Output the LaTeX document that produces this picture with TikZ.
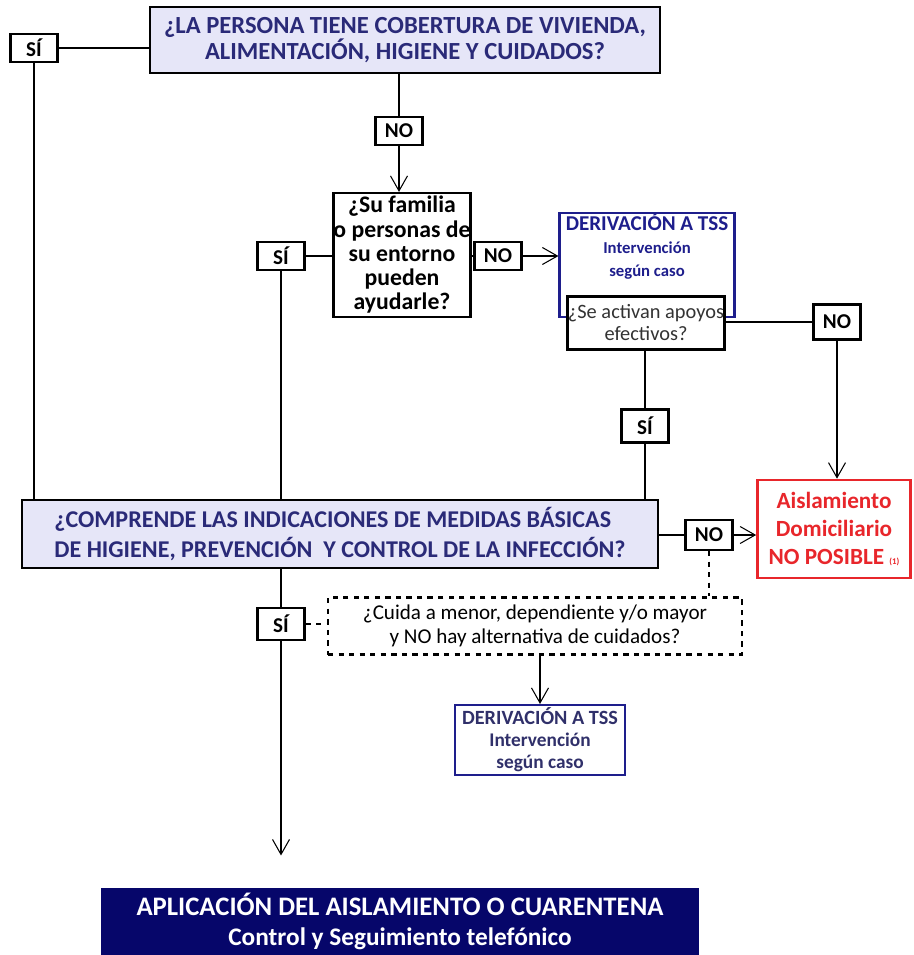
\documentclass[tikz,border=0pt]{standalone}
\usepackage{fontspec}
\setmainfont{Carlito}
\usepackage{xcolor}
\usetikzlibrary{calc,arrows.meta,positioning}
\definecolor{lav}{HTML}{E6E6F8}
\definecolor{qtext}{HTML}{2A2A78}
\definecolor{tssblue}{HTML}{1E1E8C}
\definecolor{tssgray}{HTML}{30306A}
\definecolor{navybox}{HTML}{06066A}
\definecolor{redbox}{HTML}{E8262B}

\begin{document}
\begin{tikzpicture}[x=0.2mm, y=-0.2mm, line width=1pt,
    >={Straight Barb[length=3mm, width=3.4mm, line width=0.6pt]},
    arr/.style={->},
    qbox/.style={draw, line width=1.2pt, fill=lav, text=qtext, align=center, inner sep=0pt},
    ans/.style={draw, line width=1.2pt, fill=white, font=\large\bfseries, inner sep=0pt, minimum width=9.4mm, minimum height=5.6mm},
    tssbox/.style={draw=tssblue, line width=1.2pt, text=tssblue, align=center, inner sep=0pt},
    sbox/.style={draw, line width=1.2pt, fill=white, align=center, inner sep=0pt}]
    \useasboundingbox (0,0) rectangle (913,955);

    \node[qbox, minimum width=102mm, minimum height=13.2mm, font=\fontsize{14}{14.5}\selectfont\bfseries] (persona) at (405,40) {¿LA PERSONA TIENE COBERTURA DE VIVIENDA,\\ALIMENTACIÓN, HIGIENE Y CUIDADOS?};
    \node[ans] (si1) at (34,48) {SÍ};
    \node[ans] (no1) at (399,131) {NO};

    \node[sbox, minimum width=27mm, minimum height=24.8mm, font=\fontsize{13.5}{13.8}\selectfont\bfseries] (familia) at (402,255) {¿Su familia\\o personas de\\su entorno\\pueden\\ayudarle?};
    \node[ans] (si2) at (281,256) {SÍ};
    \node[ans] (no2) at (498,256) {NO};

    \node[tssbox, minimum width=35mm, minimum height=20.6mm, anchor=north, font=\fontsize{12}{13}\selectfont\bfseries] (tss1) at (647,212) {DERIVACIÓN A TSS\\{\fontsize{9.5}{11}\selectfont Intervención}\\{\fontsize{9.5}{11}\selectfont según caso}\\[10pt]};
    \node[sbox, minimum width=31.4mm, minimum height=10.6mm, text=black!80, font=\fontsize{11.6}{12.5}\selectfont] (apoyos) at (646,323) {¿Se activan apoyos\\efectivos?};
    \node[ans, minimum height=7mm] (no3) at (837,322) {NO};
    \node[ans, minimum height=6.6mm] (si3) at (645,426) {SÍ};

    \node[qbox, align=left, minimum width=127.2mm, minimum height=13.6mm, font=\fontsize{13.7}{17}\selectfont\bfseries] (comprende) at (340,534) {¿COMPRENDE LAS INDICACIONES DE MEDIDAS BÁSICAS\\DE HIGIENE, PREVENCIÓN~ Y CONTROL DE LA INFECCIÓN?};
    \node[ans, minimum height=6mm] (no4) at (709,535) {NO};
    \node[draw=redbox, line width=1.5pt, text=redbox, align=center, inner sep=0pt, minimum width=30.6mm, minimum height=19.6mm, font=\fontsize{13.2}{15.8}\selectfont\bfseries] (aislamiento) at (834,529) {Aislamiento\\Domiciliario\\NO POSIBLE {\tiny(1)}};

    \node[sbox, dashed, minimum width=82.8mm, minimum height=11.4mm, font=\fontsize{12}{13.6}\selectfont] (cuida) at (535,626) {¿Cuida a menor, dependiente y/o mayor\\y NO hay alternativa de cuidados?};
    \node[ans, minimum height=6.4mm] (si4) at (281,624) {SÍ};
    \node[tssbox, minimum width=34mm, minimum height=14mm, text=tssgray, font=\fontsize{11.5}{12.5}\selectfont\bfseries] (tss2) at (540,740) {DERIVACIÓN A TSS\\{\fontsize{11}{12}\selectfont Intervención}\\{\fontsize{11}{12}\selectfont según caso}};

    \node[fill=navybox, text=white, align=center, inner sep=0pt, minimum width=119.4mm, minimum height=13.4mm, font=\fontsize{15.2}{17}\selectfont\bfseries] (aplicacion) at (400,921.5) {APLICACIÓN DEL AISLAMIENTO O CUARENTENA\\{\fontsize{14.4}{16}\selectfont Control y Seguimiento telefónico}};

    \draw (si1.east) -- (si1.east -| persona.west);
    \draw (si1.south) -- (si1.south |- comprende.north);
    \draw (persona.south -| no1) -- (no1.north);
    \draw[arr] (no1.south) -- (familia.north -| no1);

    \draw (si2.east) -- (si2.east -| familia.west);
    \draw (si2.south) -- (si2.south |- comprende.north);
    \draw (familia.east |- no2) -- (no2.west);
    \draw[arr] (no2.east) -- (no2.east -| tss1.west);

    \draw (apoyos.east |- no3) -- (no3.west);
    \draw[arr] (no3.south) -- (no3.south |- aislamiento.north);
    \draw (apoyos.south -| si3) -- (si3.north);
    \draw (si3.south) -- (si3.south |- comprende.north);

    \draw (comprende.east |- no4) -- (no4.west);
    \draw[arr] (no4.east) -- (no4.east -| aislamiento.west);
    \draw[dashed] (no4.south) -- (no4.south |- cuida.north);

    \draw (comprende.south -| si4) -- (si4.north);
    \draw[arr, shorten >=18\pgflinewidth] (si4.south) -- (si4.south |- aplicacion.north);
    \draw[dashed] (si4.east) -- (si4.east -| cuida.west);
    \draw[arr] (cuida.south -| tss2) -- (tss2.north);
\end{tikzpicture}
\end{document}
